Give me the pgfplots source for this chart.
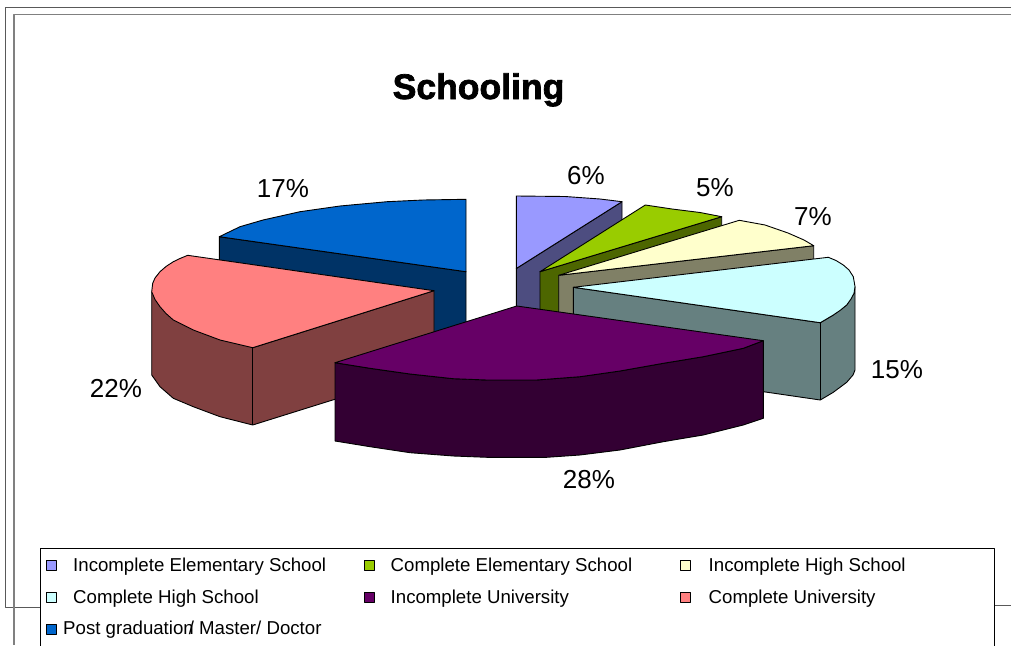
\documentclass[border=0pt]{standalone}
\usepackage{pgfplots}
\pgfplotsset{compat=1.18}
\usepackage{fontspec}
\setmainfont{Liberation Sans}
\newfontfamily\titlefont{Liberation Sans}[BoldFeatures={FakeBold=2}]
\definecolor{aT}{HTML}{9999FF}\definecolor{aS}{HTML}{4D4D80}
\definecolor{bT}{HTML}{99CC00}\definecolor{bS}{HTML}{4D6600}
\definecolor{cT}{HTML}{FFFFCC}\definecolor{cS}{HTML}{808066}
\definecolor{dT}{HTML}{CCFFFF}\definecolor{dS}{HTML}{668080}
\definecolor{eT}{HTML}{660066}\definecolor{eS}{HTML}{330033}
\definecolor{fT}{HTML}{FF8080}\definecolor{fS}{HTML}{804040}
\definecolor{gT}{HTML}{0066CC}\definecolor{gS}{HTML}{003366}
\begin{document}
\begin{tikzpicture}
\begin{axis}[width=1011pt,height=645pt,scale only axis,hide axis,
 xmin=0,xmax=1011,ymin=0,ymax=645,y dir=reverse,clip=true,
 every axis plot/.append style={line width=0.9pt,draw=black,line join=round},
 every node/.append style={text=black}]
% frame
\addplot[draw=black!65,line width=1pt] coordinates {(1011,7.5)(5.5,7.5)(5.5,607.5)(40,607.5)};
\addplot[draw=black!65,line width=1pt] coordinates {(994,605.5)(1011,605.5)};
\addplot[draw=black!50,line width=1.2pt] coordinates {(1011,14.5)(14,14.5)(14,645)};
% slice 1
\addplot[fill=aS] coordinates {(516.3,268.5)(622,201.7)(622,279)(516.3,346)} -- cycle;
\addplot[fill=aT] coordinates {(516.3,268.5)(516.3,196)(565,196.5)(600,199)(622,201.7)} -- cycle;
% slice 2
\addplot[fill=bS] coordinates {(540,271.7)(721.7,216.7)(721.7,294)(540,349)} -- cycle;
\addplot[fill=bT] coordinates {(540,271.7)(645.3,205)(672,209)(700,212.5)(721.7,216.7)} -- cycle;
% slice 3
\addplot[fill=cS] coordinates {(558.7,275.3)(813.7,245.7)(813.7,323)(558.7,352)} -- cycle;
\addplot[fill=cT] coordinates {(558.7,275.3)(739.3,220.3)(765,225)(788,233)(804,240)(813.7,245.7)} -- cycle;
% slice 4
\addplot[fill=dS] coordinates {(855,286.7)(855,370)(853,375)(846.7,382.3)(833.3,392.3)(820.3,400)(573.3,364)(573.3,287.3)(820.3,322.7)(833.3,315)(846.7,305)(854,293.3)} -- cycle;
\addplot[draw=black] coordinates {(820.3,322.7)(820.3,400)};
\addplot[fill=dT] coordinates {(573.3,287.3)(828.3,257.3)(836,260.5)(843.3,265)(849,270)(853.3,276.7)(855,286.7)(854,293.3)(851,299)(846.7,305)(840,310.5)(833.3,315)(820.3,322.7)} -- cycle;
% slice 7
\addplot[fill=gS] coordinates {(219.3,236.7)(466,271.7)(466,349)(219.3,314)} -- cycle;
\addplot[fill=gT] coordinates {(466,271.7)(466,199.3)(423,200)(387,201.7)(340,206)(300,211.7)(263,220)(240,226.7)(219.3,236.7)} -- cycle;
% slice 6
\addplot[fill=fS] coordinates {(151.7,291.7)(151.7,375)(160,386.7)(173.3,398.3)(193.3,406.7)(220,416.7)(252.7,425)(434,368.3)(434,290.7)(252.7,347.7)} -- cycle;
\addplot[draw=black] coordinates {(252.7,347.7)(252.7,425)};
\addplot[fill=fT] coordinates {(434,290.7)(187.7,255.3)(180,258.5)(173.3,261.7)(166,266.5)(160,271.7)(155,278)(152.7,283.3)(151.7,291.7)(155,299.5)(160,306.7)(166,313.5)(173.3,320)(193.3,330)(220,340)(252.7,347.7)} -- cycle;
% slice 5
\addplot[fill=eS] coordinates {(335,362.7)(370,368.3)(410,374)(453.3,378.7)(486.7,380)(536.7,380)(580,376.7)(620,371)(663.3,363.3)(703.3,356.7)(743.3,348.3)(763.3,340.7)(763.3,418.3)(743.3,425)(703.3,435)(663.3,441.7)(620,450)(580,455)(546.7,457.3)(486.7,457.3)(453.3,456)(410,452.7)(370,446.7)(335,441)} -- cycle;
\addplot[fill=eT] coordinates {(516.7,306)(335,362.7)(370,368.3)(410,374)(453.3,378.7)(486.7,380)(536.7,380)(580,376.7)(620,371)(663.3,363.3)(703.3,356.7)(743.3,348.3)(763.3,340.7)} -- cycle;
% legend
\addplot[fill=white,draw=black,line width=0.9pt] coordinates {(40,646)(40,548)(994,548)(994,646)};
\addplot[fill=aT,line width=0.7pt] coordinates {(46,560)(56,560)(56,570)(46,570)} -- cycle;
\addplot[fill=bT,line width=0.7pt] coordinates {(364,560)(374,560)(374,570)(364,570)} -- cycle;
\addplot[fill=cT,line width=0.7pt] coordinates {(680.5,560)(690.5,560)(690.5,570)(680.5,570)} -- cycle;
\addplot[fill=dT,line width=0.7pt] coordinates {(46,592)(56,592)(56,602)(46,602)} -- cycle;
\addplot[fill=eT,line width=0.7pt] coordinates {(364,592)(374,592)(374,602)(364,602)} -- cycle;
\addplot[fill=fT,line width=0.7pt] coordinates {(680.5,592)(690.5,592)(690.5,602)(680.5,602)} -- cycle;
\addplot[fill=gT,line width=0.7pt] coordinates {(46,624)(56,624)(56,634)(46,634)} -- cycle;
\node[anchor=base west,font=\fontsize{18.65}{19}\selectfont,inner sep=0pt] at (axis cs:73,571) {Incomplete Elementary School};
\node[anchor=base west,font=\fontsize{18.65}{19}\selectfont,inner sep=0pt] at (axis cs:390.5,571) {Complete Elementary School};
\node[anchor=base west,font=\fontsize{18.65}{19}\selectfont,inner sep=0pt] at (axis cs:708.5,571) {Incomplete High School};
\node[anchor=base west,font=\fontsize{18.65}{19}\selectfont,inner sep=0pt] at (axis cs:73,603) {Complete High School};
\node[anchor=base west,font=\fontsize{18.65}{19}\selectfont,inner sep=0pt] at (axis cs:390.5,603) {Incomplete University};
\node[anchor=base west,font=\fontsize{18.65}{19}\selectfont,inner sep=0pt] at (axis cs:708.5,603) {Complete University};
\node[anchor=base west,font=\fontsize{18.65}{19}\selectfont,inner sep=0pt] at (axis cs:63,634.5) {Post graduation\kern-5pt/ Master/ Doctor};
% labels
\node[font=\fontsize{26}{26}\selectfont,anchor=base,inner sep=0pt] at (axis cs:586,184) {6\%};
\node[font=\fontsize{26}{26}\selectfont,anchor=base,inner sep=0pt] at (axis cs:715,196) {5\%};
\node[font=\fontsize{26}{26}\selectfont,anchor=base,inner sep=0pt] at (axis cs:813,225) {7\%};
\node[font=\fontsize{26}{26}\selectfont,anchor=base,inner sep=0pt] at (axis cs:897,378) {15\%};
\node[font=\fontsize{26}{26}\selectfont,anchor=base,inner sep=0pt] at (axis cs:589,488) {28\%};
\node[font=\fontsize{26}{26}\selectfont,anchor=base,inner sep=0pt] at (axis cs:116,397) {22\%};
\node[font=\fontsize{26}{26}\selectfont,anchor=base,inner sep=0pt] at (axis cs:283,197) {17\%};
\node[font=\fontsize{35.5}{36}\titlefont\bfseries\selectfont,anchor=base,inner sep=0pt] at (axis cs:478.5,99) {Schooling};
\coordinate (sw) at (axis cs:0,645);
\coordinate (ne) at (axis cs:1011,0);
\end{axis}
\pgfresetboundingbox
\path[use as bounding box] (sw) rectangle (ne);
\end{tikzpicture}
\end{document}
